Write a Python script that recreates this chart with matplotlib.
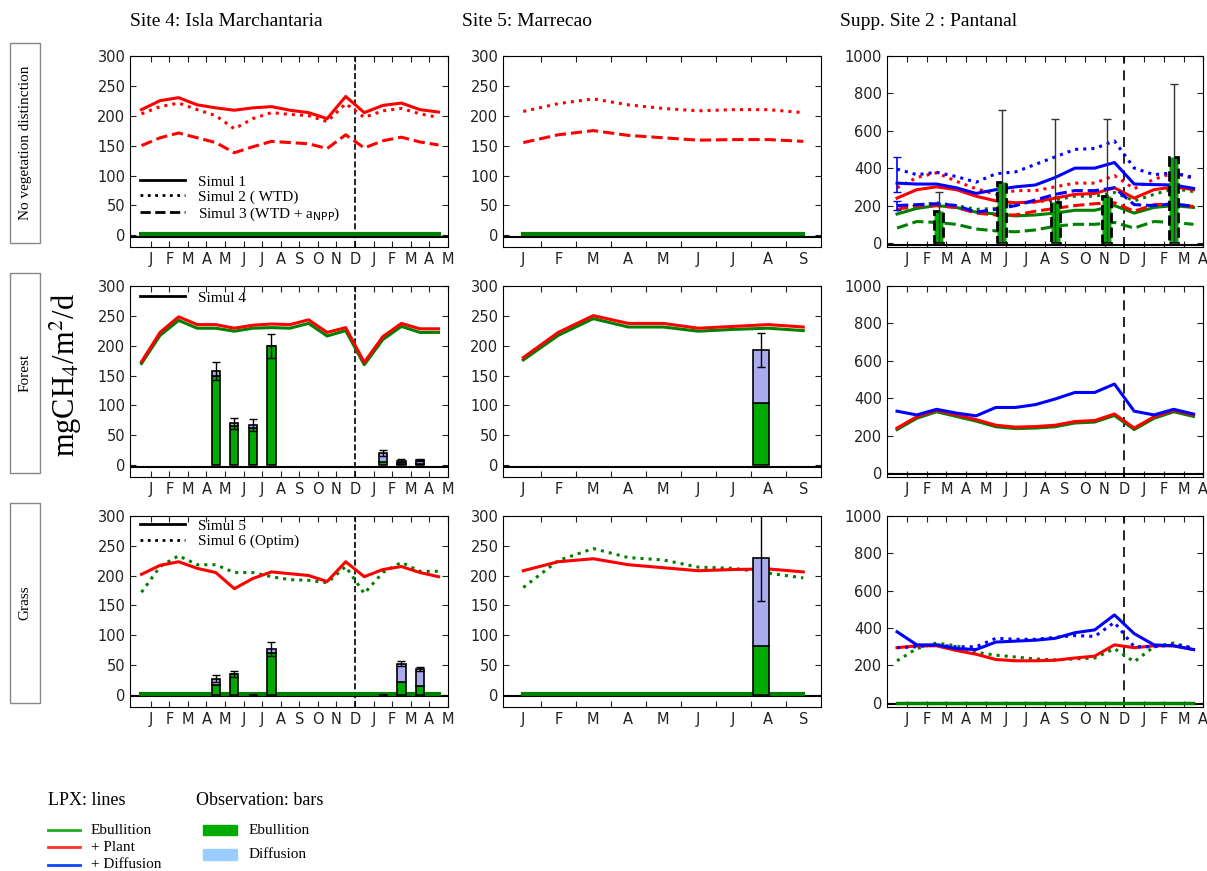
import matplotlib

matplotlib.use("Agg")
import matplotlib.pyplot as plt
import numpy as np
from matplotlib.lines import Line2D
from matplotlib.patches import Patch, Rectangle

GREEN = "#008000"
RED = "#ff0000"
BLUE = "#0000ff"
BAR_GREEN = "#00aa00"
BAR_DIFF = "#aaaaee"
SERIF = "Liberation Serif"

# ---- Site 4: Isla Marchantaria (17 monthly points) ----
S4_MONTHS = ["J", "F", "M", "A", "M", "J", "J", "A", "S", "O", "N", "D", "J", "F", "M", "A", "M"]
S4_X = np.arange(-0.5, 16, 1.0)
S4_NOVEG_S1 = [210, 225, 230, 218, 213, 209, 213, 215, 209, 205, 195, 232, 205, 217, 221, 210, 206]
S4_NOVEG_S2 = [203, 215, 221, 210, 200, 178, 195, 205, 202, 200, 190, 220, 197, 208, 212, 203, 197]
S4_NOVEG_S3 = [150, 163, 171, 163, 155, 138, 148, 157, 155, 153, 145, 168, 146, 158, 164, 156, 151]
S4_FOR_RED = [173, 222, 248, 235, 235, 229, 234, 236, 235, 243, 222, 230, 172, 215, 237, 228, 228]
S4_FOR_GREEN = [170, 217, 242, 229, 229, 224, 229, 230, 229, 237, 216, 225, 168, 210, 232, 222, 222]
S4_GRA_RED = [202, 217, 223, 212, 205, 178, 195, 206, 203, 200, 190, 223, 198, 210, 215, 205, 198]
S4_GRA_GDOT = [172, 215, 233, 218, 218, 205, 205, 198, 193, 192, 188, 215, 170, 205, 222, 207, 207]
S4_BAR_X = [3.5, 4.5, 5.5, 6.5, 12.5, 13.5, 14.5]
S4_FOR_EBU = [150, 65, 62, 200, 5, 2, 2]
S4_FOR_DIF = [8, 5, 5, 0, 15, 6, 7]
S4_FOR_ERR = [15, 9, 10, 20, 5, 2, 2]
S4_GRA_EBU = [17, 35, 1, 70, 0.5, 23, 15]
S4_GRA_DIF = [11, 0, 0, 7, 0, 30, 29]
S4_GRA_ERR = [6, 5, 0, 12, 0, 4, 3]

# ---- Site 5: Marrecao (9 monthly points) ----
S5_MONTHS = ["J", "F", "M", "A", "M", "J", "J", "A", "S"]
S5_X = np.arange(0, 9)
S5_NOVEG_S2 = [207, 220, 228, 218, 212, 208, 210, 210, 205]
S5_NOVEG_S3 = [155, 168, 175, 167, 163, 159, 160, 160, 157]
S5_FOR_RED = [180, 222, 250, 237, 237, 229, 232, 235, 231]
S5_FOR_GREEN = [176, 217, 245, 231, 231, 224, 227, 229, 225]
S5_GRA_RED = [208, 223, 228, 218, 213, 208, 210, 211, 206]
S5_GRA_GDOT = [180, 225, 245, 230, 226, 214, 212, 204, 196]
S5_BAR_X = [6.8]
S5_FOR_EBU, S5_FOR_DIF, S5_FOR_ERR = [104], [89], [28]
S5_GRA_EBU, S5_GRA_DIF, S5_GRA_ERR = [83], [147], [72]

# ---- Supp. Site 2: Pantanal (16 monthly points) ----
P_MONTHS = ["J", "F", "M", "A", "M", "J", "J", "A", "S", "O", "N", "D", "J", "F", "M", "A"]
P_X = np.arange(-0.5, 15, 1.0)
P_NV_BLUE = [320, 315, 315, 295, 265, 285, 300, 310, 350, 400, 400, 430, 315, 312, 310, 292]
P_NV_BLUE_DOT = [395, 365, 378, 355, 325, 370, 380, 420, 460, 500, 505, 545, 400, 365, 375, 350]
P_NV_BLUE_DASH = [200, 205, 210, 200, 165, 180, 200, 230, 260, 280, 280, 295, 205, 200, 210, 195]
P_NV_RED = [240, 285, 300, 285, 250, 225, 215, 220, 240, 260, 265, 295, 240, 285, 300, 285]
P_NV_RED_DOT = [295, 350, 375, 330, 290, 260, 280, 280, 300, 320, 320, 360, 290, 340, 375, 345]
P_NV_RED_DASH = [180, 200, 200, 190, 160, 150, 150, 170, 185, 200, 210, 215, 170, 205, 210, 195]
P_NV_GREEN = [155, 185, 200, 190, 165, 155, 145, 150, 160, 175, 175, 200, 160, 190, 200, 190]
P_NV_GREEN_DOT = [175, 200, 215, 200, 180, 185, 210, 220, 230, 250, 250, 270, 225, 260, 290, 275]
P_NV_GREEN_DASH = [80, 115, 110, 100, 75, 65, 60, 70, 90, 100, 100, 110, 80, 115, 110, 100]
P_BAR_X = [1.6, 4.8, 7.5, 10.1, 13.5]
P_BAR_EBU = [170, 325, 220, 250, 460]
P_BAR_ERR = [105, 385, 440, 410, 390]
P_FOR_BLUE = [330, 310, 340, 320, 305, 350, 350, 365, 395, 430, 430, 475, 330, 310, 340, 315]
P_FOR_RED = [240, 300, 335, 310, 285, 255, 245, 248, 255, 275, 280, 315, 240, 300, 335, 310]
P_FOR_GREEN = [232, 292, 327, 302, 277, 247, 237, 240, 247, 267, 272, 307, 232, 292, 327, 302]
P_GRA_BLUE = [380, 310, 310, 290, 285, 325, 330, 335, 345, 375, 390, 470, 370, 310, 305, 285]
P_GRA_BLUE_DOT = [295, 300, 310, 300, 300, 345, 340, 340, 350, 360, 355, 430, 300, 300, 310, 295]
P_GRA_RED = [295, 305, 305, 280, 260, 232, 225, 225, 228, 240, 250, 310, 295, 305, 305, 285]
P_GRA_GDOT = [225, 290, 320, 305, 270, 255, 245, 235, 230, 235, 240, 290, 220, 300, 320, 290]

plt.rcParams.update({
    "font.family": ["DejaVu Sans"],
    "font.size": 10.5,
    "xtick.direction": "in",
    "ytick.direction": "in",
    "xtick.top": True,
    "ytick.right": True,
    "xtick.major.size": 4,
    "ytick.major.size": 4,
    "xtick.color": "#222222",
    "ytick.color": "#222222",
})

fig = plt.figure(figsize=(12.07, 8.71), dpi=100)
lefts = [0.108, 0.417, 0.735]
widths = [0.263, 0.263, 0.262]
bottoms = [0.716, 0.452, 0.188]
height = 0.22
axes = [[fig.add_axes([lefts[c], bottoms[r], widths[c], height]) for c in range(3)] for r in range(3)]
LW = 2.2


def setup_s4(ax):
    ax.set_xlim(-1.1, 16)
    ax.set_xticks(range(17))
    ax.set_xticklabels(S4_MONTHS)
    ax.set_ylim(-20, 300)
    ax.set_yticks(range(0, 301, 50))
    ax.axvline(11, color="black", ls="--", lw=1.2)
    ax.axhline(-2, color="black", lw=1.5)


def setup_s5(ax):
    ax.set_xlim(-0.57, 8.5)
    ax.set_xticks(np.arange(0.5, 8.5, 1.0))
    ax.set_xticklabels([])
    ax.set_xticks(S5_X, minor=True)
    ax.set_xticklabels(S5_MONTHS, minor=True)
    ax.tick_params(axis="x", which="minor", length=0)
    ax.set_ylim(-20, 300)
    ax.set_yticks(range(0, 301, 50))
    ax.axhline(-2, color="black", lw=1.5)


def setup_p(ax):
    ax.set_xlim(-1, 15)
    ax.set_xticks(range(16))
    ax.set_xticklabels(P_MONTHS)
    ax.set_ylim(-23, 1000)
    ax.set_yticks(range(0, 1001, 200))
    ax.axvline(11, color="black", ls="--", lw=1.2, dashes=(6, 4))
    ax.axhline(-8, color="black", lw=1.5)


def obs_bars(ax, x, ebu, dif, err, width=0.45):
    ebu = np.array(ebu, float)
    dif = np.array(dif, float)
    ax.bar(x, ebu, width, color=BAR_GREEN, edgecolor="black", lw=1.2, zorder=2)
    ax.bar(x, dif, width, bottom=ebu, color=BAR_DIFF, edgecolor="black", lw=1.2, zorder=2)
    ax.errorbar(x, ebu + dif, yerr=err, fmt="none", ecolor="black", elinewidth=1, capsize=3, zorder=3)


def simul_legend(ax, labels, styles, loc, anchor):
    handles = [Line2D([], [], color="black", ls=s, lw=2) for s in styles]
    ax.legend(handles, labels, loc=loc, bbox_to_anchor=anchor, frameon=False,
              prop={"family": SERIF, "size": 11}, handlelength=3, labelspacing=0.1, borderaxespad=0.2)


# Row 1: no vegetation distinction
ax = axes[0][0]
setup_s4(ax)
ax.plot(S4_X, S4_NOVEG_S1, color=RED, lw=LW)
ax.plot(S4_X, S4_NOVEG_S2, color=RED, lw=LW, ls=":")
ax.plot(S4_X, S4_NOVEG_S3, color=RED, lw=LW, ls="--")
ax.plot(S4_X, np.full(17, 2), color=GREEN, lw=3)
simul_legend(ax, ["Simul 1", "Simul 2 ( WTD)", "Simul 3 (WTD + a$_{\\rm NPP}$)"],
             ["-", ":", "--"], "lower left", (0.0, 0.08))

ax = axes[0][1]
setup_s5(ax)
ax.plot(S5_X, S5_NOVEG_S2, color=RED, lw=LW, ls=":")
ax.plot(S5_X, S5_NOVEG_S3, color=RED, lw=LW, ls="--")
ax.plot(S5_X, np.full(9, 2), color=GREEN, lw=3)

ax = axes[0][2]
setup_p(ax)
for vals, col, ls in [(P_NV_GREEN_DASH, GREEN, "--"), (P_NV_GREEN_DOT, GREEN, ":"), (P_NV_GREEN, GREEN, "-"),
                      (P_NV_RED_DASH, RED, "--"), (P_NV_RED_DOT, RED, ":"), (P_NV_RED, RED, "-"),
                      (P_NV_BLUE_DASH, BLUE, "--"), (P_NV_BLUE_DOT, BLUE, ":"), (P_NV_BLUE, BLUE, "-")]:
    ax.plot(P_X, vals, color=col, ls=ls, lw=LW)
ax.bar(P_BAR_X, P_BAR_EBU, 0.45, color=BAR_GREEN, edgecolor="black", lw=2, ls="--", zorder=3)
ax.errorbar(P_BAR_X, P_BAR_EBU, yerr=[P_BAR_EBU, P_BAR_ERR], fmt="none", ecolor="#333333",
            elinewidth=1, capsize=3, zorder=4)
ax.errorbar([-0.5, -0.5], [320, 200], yerr=[[50, 25], [140, 25]], fmt="none", ecolor=BLUE,
            elinewidth=1.2, capsize=3)

# Row 2: forest
ax = axes[1][0]
setup_s4(ax)
ax.plot(S4_X, S4_FOR_GREEN, color=GREEN, lw=LW)
ax.plot(S4_X, S4_FOR_RED, color=RED, lw=LW)
obs_bars(ax, S4_BAR_X, S4_FOR_EBU, S4_FOR_DIF, S4_FOR_ERR)
simul_legend(ax, ["Simul 4"], ["-"], "upper left", (0.0, 1.02))

ax = axes[1][1]
setup_s5(ax)
ax.plot(S5_X, S5_FOR_GREEN, color=GREEN, lw=LW)
ax.plot(S5_X, S5_FOR_RED, color=RED, lw=LW)
obs_bars(ax, S5_BAR_X, S5_FOR_EBU, S5_FOR_DIF, S5_FOR_ERR)

ax = axes[1][2]
setup_p(ax)
ax.plot(P_X, P_FOR_GREEN, color=GREEN, lw=LW)
ax.plot(P_X, P_FOR_RED, color=RED, lw=LW)
ax.plot(P_X, P_FOR_BLUE, color=BLUE, lw=LW)

# Row 3: grass
ax = axes[2][0]
setup_s4(ax)
ax.plot(S4_X, np.full(17, 2), color=GREEN, lw=3)
ax.plot(S4_X, S4_GRA_GDOT, color=GREEN, lw=LW, ls=":")
ax.plot(S4_X, S4_GRA_RED, color=RED, lw=LW)
obs_bars(ax, S4_BAR_X, S4_GRA_EBU, S4_GRA_DIF, S4_GRA_ERR)
simul_legend(ax, ["Simul 5", "Simul 6 (Optim)"], ["-", ":"], "upper left", (0.0, 1.03))

ax = axes[2][1]
setup_s5(ax)
ax.plot(S5_X, np.full(9, 2), color=GREEN, lw=3)
ax.plot(S5_X, S5_GRA_GDOT, color=GREEN, lw=LW, ls=":")
ax.plot(S5_X, S5_GRA_RED, color=RED, lw=LW)
obs_bars(ax, S5_BAR_X, S5_GRA_EBU, S5_GRA_DIF, S5_GRA_ERR)

ax = axes[2][2]
setup_p(ax)
ax.plot(P_X, np.full(16, 2), color=GREEN, lw=2.5)
ax.plot(P_X, P_GRA_GDOT, color=GREEN, lw=LW, ls=":")
ax.plot(P_X, P_GRA_RED, color=RED, lw=LW)
ax.plot(P_X, P_GRA_BLUE_DOT, color=BLUE, lw=LW, ls=":")
ax.plot(P_X, P_GRA_BLUE, color=BLUE, lw=LW)

# titles
for x, t in [(0.108, "Site 4: Isla Marchantaria"), (0.383, "Site 5: Marrecao"), (0.696, "Supp. Site 2 : Pantanal")]:
    fig.text(x, 0.975, t, family=SERIF, fontsize=14, va="center")

# row labels in boxes
for yc, lab in [(0.836, "No vegetation distinction"), (0.572, "Forest"), (0.308, "Grass")]:
    fig.patches.append(Rectangle((0.0085, yc - 0.115), 0.0245, 0.23, transform=fig.transFigure,
                                 facecolor="white", edgecolor="#888888", lw=1))
    fig.text(0.021, yc, lab, rotation=90, family=SERIF, fontsize=11, ha="center", va="center")

fig.text(0.055, 0.57, "mgCH$_4$/m$^2$/d", rotation=90, family=SERIF, fontsize=22,
         ha="center", va="center", math_fontfamily="stix")

# bottom legend
fig.text(0.04, 0.081, "LPX: lines", family=SERIF, fontsize=13, va="center")
fig.text(0.162, 0.081, "Observation: bars", family=SERIF, fontsize=13, va="center")
lax = fig.add_axes([0.03, 0.0, 0.3, 0.06])
lax.set_axis_off()
lax.set_xlim(0, 1)
lax.set_ylim(0, 1)
for y, col, lab in [(0.78, "#22aa22", "Ebullition"), (0.45, "#ff3333", "+ Plant"), (0.12, "#1144ff", "+ Diffusion")]:
    lax.plot([0.033, 0.12], [y, y], color=col, lw=2)
    lax.text(0.15, y, lab, family=SERIF, fontsize=11, va="center")
for y, col, lab in [(0.78, BAR_GREEN, "Ebullition"), (0.32, "#99ccff", "Diffusion")]:
    lax.add_patch(Rectangle((0.46, y - 0.1), 0.095, 0.2, color=col))
    lax.text(0.585, y, lab, family=SERIF, fontsize=11, va="center")

fig.savefig("out.png", dpi=100)
